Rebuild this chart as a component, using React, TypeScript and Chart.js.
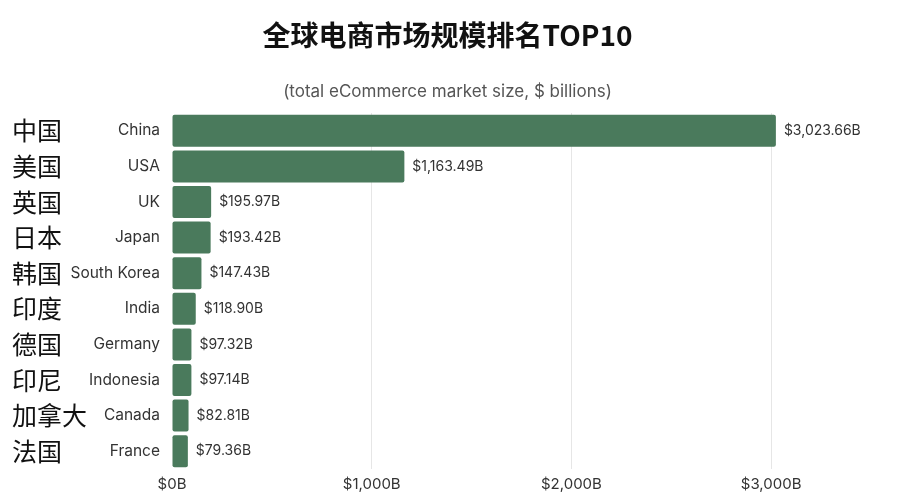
import { useEffect, useRef } from "react";
import { Chart, registerables } from "chart.js";

Chart.register(...registerables);

const countriesEn = ["China", "USA", "UK", "Japan", "South Korea", "India", "Germany", "Indonesia", "Canada", "France"];
const countriesCn = ["中国", "美国", "英国", "日本", "韩国", "印度", "德国", "印尼", "加拿大", "法国"];
const marketSize = [3023.66, 1163.49, 195.97, 193.42, 147.43, 118.9, 97.32, 97.14, 82.81, 79.36];
const xTicks = [0, 1000, 2000, 3000];

const BAR_COLOR = "#4a7a5c";
const EN_FONT = "Inter, 'Noto Sans', sans-serif";
const CN_FONT = "'Noto Sans CJK SC', sans-serif";

const money = (v: number, digits: number) =>
  "$" + v.toLocaleString("en-US", { minimumFractionDigits: digits, maximumFractionDigits: digits }) + "B";

// draws "$x.xxB" just past the end of every bar
const valueLabels = {
  id: "valueLabels",
  afterDatasetsDraw(chart: any) {
    const { ctx } = chart;
    const meta = chart.getDatasetMeta(0);
    ctx.save();
    ctx.font = `14px ${EN_FONT}`;
    ctx.fillStyle = "#333";
    ctx.textAlign = "left";
    ctx.textBaseline = "middle";
    meta.data.forEach((bar: any, i: number) => {
      ctx.fillText(money(marketSize[i], 2), bar.x + 8, bar.y);
    });
    ctx.restore();
  },
};

function MarketChart() {
  const ref = useRef<HTMLCanvasElement>(null);

  useEffect(() => {
    const canvas = ref.current;
    if (!canvas) return;
    const chart = new Chart(canvas, {
      type: "bar",
      data: {
        labels: countriesEn,
        datasets: [
          {
            data: marketSize,
            backgroundColor: BAR_COLOR,
            borderRadius: 2,
            borderSkipped: false,
            barPercentage: 0.9,
            categoryPercentage: 1,
          },
        ],
      },
      options: {
        indexAxis: "y",
        animation: false,
        responsive: true,
        maintainAspectRatio: false,
        layout: { padding: { left: 4, right: 27, top: 0, bottom: 0 } },
        plugins: {
          legend: { display: false },
          tooltip: { enabled: false },
          title: {
            display: true,
            text: "全球电商市场规模排名TOP10",
            color: "#111",
            font: { family: CN_FONT, size: 28, weight: "bold" },
            padding: { top: 11, bottom: 29 },
          },
          subtitle: {
            display: true,
            text: "(total eCommerce market size, $ billions)",
            color: "#555",
            font: { family: EN_FONT, size: 17 },
            padding: { top: 0, bottom: 11 },
          },
        },
        scales: {
          x: {
            min: 0,
            max: 3560,
            afterBuildTicks: (axis: any) => {
              axis.ticks = xTicks.map((value) => ({ value }));
            },
            afterFit: (scale: any) => {
              scale.height = 23;
            },
            border: { display: false },
            grid: {
              drawTicks: false,
              color: (c: any) => (c.tick && c.tick.value === 0 ? "transparent" : "#e6e6e6"),
            },
            ticks: {
              padding: 6,
              color: "#333",
              font: { family: EN_FONT, size: 15 },
              callback: (v: any) => money(Number(v), 0),
            },
          },
          y: {
            position: "left",
            weight: 0,
            afterFit: (scale: any) => {
              scale.width = 160;
            },
            border: { display: false },
            grid: { display: false, drawTicks: false },
            ticks: {
              padding: 12,
              color: "#333",
              font: { family: EN_FONT, size: 15.5 },
            },
          },
          // Chinese names: zero-width outer axis, mirrored so the labels are not clipped
          y2: {
            type: "category",
            labels: countriesCn,
            position: "left",
            weight: 1,
            offset: true,
            afterFit: (scale: any) => {
              scale.width = 0;
            },
            border: { display: false },
            grid: { display: false, drawTicks: false },
            ticks: {
              mirror: true,
              padding: 0,
              color: "#111",
              font: { family: CN_FONT, size: 25 },
            },
          },
        },
      },
      plugins: [valueLabels],
    });
    return () => chart.destroy();
  }, []);

  return (
    <div style={{ position: "relative", height: 484 }}>
      <canvas ref={ref} />
    </div>
  );
}

export default function App() {
  return <MarketChart />;
}
